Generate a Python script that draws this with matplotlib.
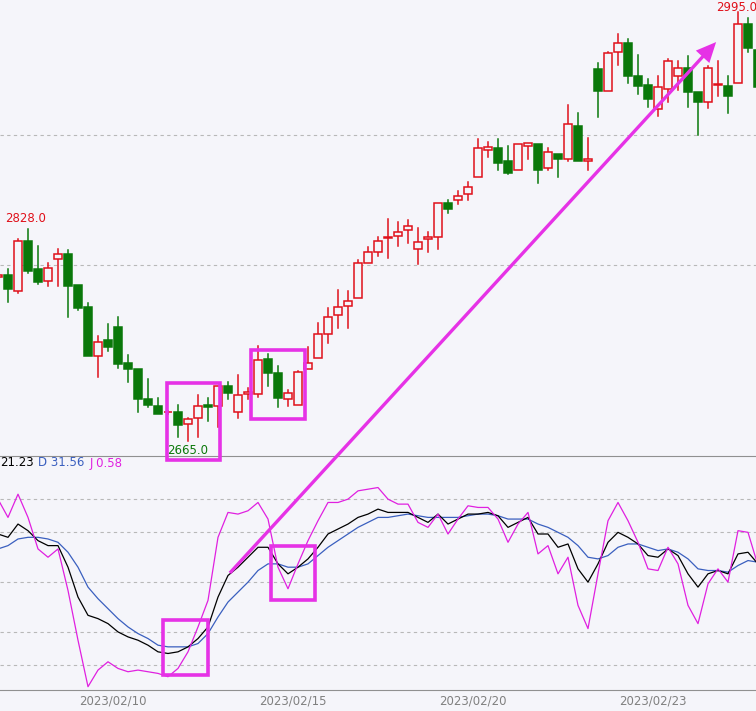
import matplotlib
matplotlib.use("Agg")
import matplotlib.pyplot as plt
from matplotlib.patches import Rectangle

opens  = [2791,2793,2780,2819,2797,2788,2805,2809,2785,2768,2730,2743,2753,2725,2720,2697,2692,2687,2687,2678,2683,2693,2692,2707,2687,2701,
          2701,2728,2717,2697,2693,2720,2729,2747,2762,2769,2775,2802,2810,2821,2823,2827,2813,2820,2822,2848,2850,2855,2868,2889,2890,2880,
          2873,2892,2893,2875,2886,2882,2907,2880,2951,2934,2964,2971,2946,2939,2920,2936,2946,2952,2933,2926,2939,2938,2940,2986,2966]
closes = [2793,2782,2819,2796,2787,2798,2809,2784,2767,2730,2741,2737,2724,2720,2697,2693,2686,2687,2677,2682,2692,2691,2707,2702,2700,2703,
          2727,2717,2698,2702,2718,2725,2747,2760,2768,2773,2802,2810,2819,2822,2826,2830,2818,2822,2848,2843,2853,2860,2890,2891,2879,2871,
          2893,2894,2873,2887,2882,2909,2880,2882,2934,2963,2971,2946,2938,2928,2937,2957,2952,2933,2926,2952,2939.5,2930,2986,2967,2937]
highs  = [2794,2797,2820,2828,2815,2802,2813,2812,2785,2771,2746,2755,2760,2731,2720,2713,2698,2688,2693,2683,2700,2698,2707,2710,2716,2706,
          2738,2732,2723,2704,2719,2737,2756,2767,2781,2780,2804,2814,2822,2836,2833,2835,2829,2826,2848,2850,2857,2864,2897,2895,2897,2892,
          2893,2894,2893,2890,2886,2923,2917,2898,2956,2964,2978,2974,2962,2943,2946,2959,2957,2961,2933,2953,2957,2946,2995,2990,2966]
lows   = [2790,2772,2779,2794,2786,2784,2784,2760,2766,2730,2714,2734,2721,2710,2687,2691,2686,2686,2668,2665,2668,2680,2676,2697,2683,2697,
          2699,2707,2691,2692,2693,2720,2729,2740,2752,2752,2775,2802,2807,2806,2815,2817,2801,2810,2813,2840,2847,2850,2868,2883,2873,2870,
          2873,2882,2863,2873,2868,2880,2880,2873,2914,2934,2954,2940,2932,2922,2915,2926,2935,2922,2900,2921,2930,2917,2940,2964,2935]

k_vals = [79,77,85,81,75,72,72,59,41,30,28,25,20,17,15,12,8,7,8,11,16,23,41,54,59,65,
          71,71,61,55,59,64,71,79,82,85,89,91,94,92,92,92,89,86,91,85,88,91,91,92,90,83,86,89,79,79,
          71,73,58,50,61,74,80,77,73,66,65,70,66,55,47,55,57,55,67,68,61]
d_vals = [70,72,76,77,77,76,74,68,59,47,40,34,28,23,19,16,12,11,11,11,13,19,29,38,44,50,
          57,61,61,59,59,61,66,71,75,79,83,86,89,89,90,91,90,89,89,89,89,90,91,91,90,88,88,88,85,83,
          80,77,72,65,64,66,71,73,73,71,69,70,68,64,58,57,57,56,60,63,62]
j_vals = [100,89,103,89,70,65,70,45,15,-13,-3,2,-2,-4,-3,-4,-5,-7,-2,8,23,39,77,92,91,93,
          98,88,59,46,61,75,87,98,98,100,105,106,107,100,97,97,86,83,91,79,88,96,95,95,88,74,85,92,67,72,
          55,65,36,22,55,87,98,87,74,58,57,71,61,36,25,49,58,50,81,80,60]

date_labels = ["2023/02/10", "2023/02/15", "2023/02/20", "2023/02/23"]
date_pos = [11.5, 29.5, 47.5, 65.5]
kdj_levels = [0, 20, 50, 80, 100]
price_levels = [2800, 2900]

W, H = 756, 711
BG = '#f5f5fa'
RED = '#e0101a'
GREEN = '#0a780a'
MAG = '#e632e6'
fig = plt.figure(figsize=(W/100, H/100), dpi=100, facecolor=BG)
ax = fig.add_axes([0, 256/H, 1, 455/H], facecolor=BG)
ax2 = fig.add_axes([0, 21/H, 1, 234/H], facecolor=BG)

for i, (o, c, h, l) in enumerate(zip(opens, closes, highs, lows)):
    up = c >= o
    col = RED if up else GREEN
    lo, hi = min(o, c), max(o, c)
    ax.plot([i, i], [l, lo], color=col, lw=1.1, zorder=2)
    ax.plot([i, i], [hi, h], color=col, lw=1.1, zorder=2)
    hgt = max(hi - lo, 0.6)
    ax.add_patch(Rectangle((i - 0.42, lo), 0.84, hgt, facecolor=BG if up else GREEN,
                           edgecolor=col, lw=1.1, zorder=3))
for p in price_levels:
    ax.axhline(p, color='#b8b8b8', lw=0.8, ls=(0, (3, 3)), zorder=1)
ax.set_xlim(0.2, 75.8)
ax.set_ylim(3004.1 - 0.769*455, 3004.1)
ax.text(2.8, 2828 + 3, "2828.0", color=RED, fontsize=8.5, ha='center', va='bottom')
ax.text(19, 2663, "2665.0", color=GREEN, fontsize=8.5, ha='center', va='top')
ax.text(73.9, 2998.6, "2995.0", color=RED, fontsize=8.5, ha='center', va='center')

x = range(len(k_vals))
for lv in kdj_levels:
    ax2.axhline(lv, color='#b8b8b8', lw=0.8, ls=(0, (3, 3)), zorder=1)
ax2.plot(x, d_vals, color='#3a5fbf', lw=0.9)
ax2.plot(x, k_vals, color='black', lw=0.9)
ax2.plot(x, j_vals, color='#e020e0', lw=0.9)
ax2.set_xlim(0.2, 75.8)
ax2.set_ylim(-15, 126)
ax2.set_xticks(date_pos)
ax2.set_xticklabels(date_labels, color='#808080', fontsize=8.5)
ax2.tick_params(axis='x', length=0, pad=3)
ax2.set_yticks([])

for a in (ax, ax2):
    for s in a.spines.values():
        s.set_visible(False)
ax.set_xticks([]); ax.set_yticks([])
ax2.spines['bottom'].set_visible(True)
ax2.spines['bottom'].set_color('#909090')
ax2.spines['top'].set_visible(True)
ax2.spines['top'].set_color('#909090')

fig.text(0/W, 1 - 463/H, "21.23", color='black', fontsize=8.5, va='center')
fig.text(38/W, 1 - 463/H, "D 31.56", color='#3a5fbf', fontsize=8.5, va='center')
fig.text(90/W, 1 - 463/H, "J 0.58", color='#e020e0', fontsize=8.5, va='center')

def fx(px): return px / W
def fy(py): return 1 - py / H
for (x0, y0, x1, y1) in [(167, 383, 220, 460), (251, 350, 305, 419), (163, 620, 208, 675), (271, 546, 315, 600)]:
    fig.patches.append(Rectangle((fx(x0), fy(y1)), fx(x1 - x0), (y1 - y0)/H, transform=fig.transFigure,
                                 fill=False, edgecolor=MAG, lw=2.6, zorder=10))
fig.patches.append(matplotlib.patches.FancyArrowPatch((fx(228), fy(575)), (fx(718), fy(40)),
                   transform=fig.transFigure, arrowstyle='simple,head_width=1.1,head_length=1.2',
                   mutation_scale=12, color=MAG, lw=0, zorder=10))
fig.savefig("out.png", dpi=100, facecolor=BG)
